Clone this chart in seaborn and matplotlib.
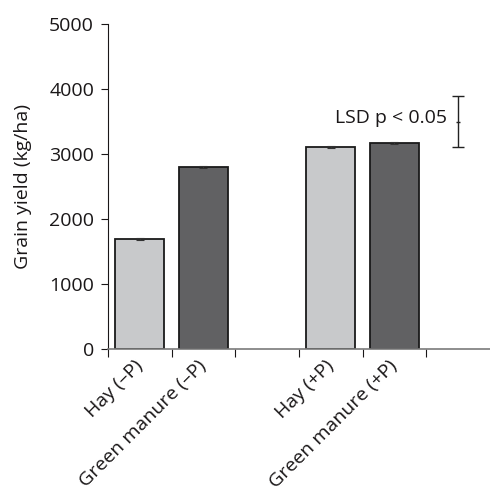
import numpy as np
import pandas as pd
import matplotlib
matplotlib.use("Agg")
import matplotlib.pyplot as plt
import seaborn as sns

# Data
treatments = ["Hay (–P)", "Green manure (–P)", "Hay (+P)", "Green manure (+P)"]
yields = [1690, 2800, 3105, 3170]
errors = [12, 12, 12, 12]
bar_colors = ["#c8c9cb", "#616163", "#c8c9cb", "#616163"]
slots = ["Hay (–P)", "Green manure (–P)", "gap1", "Hay (+P)", "Green manure (+P)", "gap2"]
lsd_low, lsd_high = 3110, 3885

sns.set_style("ticks")
plt.rcParams["font.family"] = ["Open Sans", "DejaVu Sans"]
fs = 14
txt = "#1a1718"

df = pd.DataFrame({"treatment": treatments, "yield": yields})

fig = plt.figure(figsize=(4.9, 4.87), dpi=100)
ax = fig.add_axes([0.2204, 0.2834, 0.7796, 0.6673])

sns.barplot(data=df, x="treatment", y="yield", order=slots, hue="treatment",
            hue_order=treatments, palette=bar_colors, legend=False,
            width=0.77, edgecolor="#1a1a1a", linewidth=1.3, errorbar=None, ax=ax)

# tiny error bars
pos = [slots.index(t) for t in treatments]
ax.errorbar(pos, yields, yerr=errors, fmt="none", ecolor="#333333",
            elinewidth=0.8, capsize=3, capthick=0.8)

# LSD bar
lsd_x = slots.index("gap2")
ax.errorbar([lsd_x], [(lsd_low + lsd_high) / 2], yerr=[(lsd_high - lsd_low) / 2],
            fmt="none", ecolor="#222222", elinewidth=1, capsize=4, capthick=1)
ax.plot([lsd_x], [(lsd_low + lsd_high) / 2], marker="_", color="#222222", ms=3)
ax.text(lsd_x - 0.18, 3550, "LSD p < 0.05", ha="right", va="center", fontsize=fs,
        color=txt)

ax.set_xlim(-0.5, 5.5)
ax.set_ylim(0, 5000)
ax.set_yticks([0, 1000, 2000, 3000, 4000, 5000])
ax.tick_params(axis="y", labelsize=fs, length=5, width=0.8, pad=5, colors=txt)

# labels at bar centers, tick marks at slot boundaries
ax.set_xticks(pos)
ax.set_xticklabels(treatments, rotation=45, ha="right", va="center",
                   rotation_mode="anchor", fontsize=fs, color=txt)
ax.tick_params(axis="x", which="major", length=0, pad=10)
ax.set_xticks(np.arange(-0.5, 5.5, 1), minor=True)
ax.tick_params(axis="x", which="minor", length=6, width=0.8, color=txt)

ax.set_xlabel("")
ax.set_ylabel("Grain yield (kg/ha)", fontsize=fs, color=txt, labelpad=12)

sns.despine(ax=ax)
ax.spines["left"].set_color(txt)
ax.spines["left"].set_linewidth(0.8)
ax.spines["bottom"].set_color("#7a7a7a")
ax.spines["bottom"].set_linewidth(1.2)

fig.savefig("out.png", dpi=100)
